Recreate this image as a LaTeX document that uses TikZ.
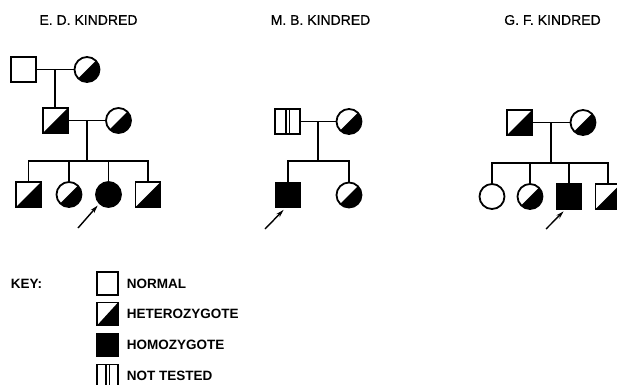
\documentclass[tikz,border=0pt]{standalone}
\usepackage{fontspec}
\setmainfont{Liberation Sans}
\newfontfamily\titlefont[FakeBold=0.6]{Liberation Sans}
\usetikzlibrary{arrows.meta,calc,positioning}

\begin{document}
\begin{tikzpicture}[x=1pt, y=-1pt, line width=1.8,
  male/.style={draw, rectangle, minimum size=25, inner sep=0},
  female/.style={draw, circle, minimum size=25, inner sep=0},
  het/.style={path picture={\fill (path picture bounding box.south west)
      -- (path picture bounding box.north east) |- cycle;}},
  homo/.style={fill=black},
  untested/.style={path picture={
      \draw[line width=1.2] ([xshift=-1.6]path picture bounding box.north)
        -- ([xshift=-1.6]path picture bounding box.south);
      \draw[line width=1.2] ([xshift=1.6]path picture bounding box.north)
        -- ([xshift=1.6]path picture bounding box.south);}},
  keybox/.style={draw, rectangle, minimum width=21, minimum height=23, inner sep=0},
  title/.style={font=\fontsize{14}{16}\selectfont\titlefont},
  keytext/.style={font=\fontsize{13.5}{16}\selectfont\bfseries, inner sep=0},
  pointer/.style={-{Stealth[length=8,width=4.5]}, line width=1.4, shorten >=2},
]
\clip (0,0) rectangle (617,384);

% E. D. kindred
\node[title] (edt) at (88.5,20) {E. D. KINDRED};
\node[male] (ei1) at (23.5,69.5) {};
\node[female,het] (ei2) at (87,69.5) {};
\coordinate (e1) at ($(ei1)!0.5!(ei2)$);
\node[male,het] (eii1) at (55.25,120.5) {};
\node[female,het] (eii2) at (118.5,120.5) {};
\coordinate (e2) at ($(eii1)!0.5!(eii2)$);
\coordinate (es) at ($(e2)+(0,40.5)$);
\node[male,het] (ec1) at (28.5,194.5) {};
\node[female,het] (ec2) at (69,194.5) {};
\node[female,homo] (ec3) at (108.5,194.5) {};
\node[male,het] (ec4) at (148,194.5) {};
\draw (ei1) -- (ei2);
\draw (e1) -- (eii1);
\draw (eii1) -- (eii2);
\draw (e2) -- (es);
\draw (ec1) |- (es) -| (ec4);
\draw (ec2) -- (ec2 |- es);
\draw (ec3) -- (ec3 |- es);
\coordinate (ea) at (78,228);
\draw[pointer] (ea) -- (ec3.225);

% M. B. kindred
\node[title] (mbt) at (320.5,20) {M. B. KINDRED};
\node[male,untested] (mi1) at (287.5,121.5) {};
\node[female,het] (mi2) at (349,121.5) {};
\coordinate (m1) at ($(mi1)!0.5!(mi2)$);
\coordinate (ms) at ($(m1)+(0,39.5)$);
\node[male,homo] (mc1) at (288,195) {};
\node[female,het] (mc2) at (349,195) {};
\draw (mi1) -- (mi2);
\draw (m1) -- (ms);
\draw (mc1) |- (ms) -| (mc2);
\coordinate (ma) at (265,229);
\draw[pointer] (ma) -- ([xshift=-3]mc1.south);

% G. F. kindred
\node[title] (gft) at (552.5,20) {G. F. KINDRED};
\node[male,het] (gi1) at (519.5,122.5) {};
\node[female,het] (gi2) at (583,122.5) {};
\coordinate (g1) at ($(gi1)!0.5!(gi2)$);
\coordinate (gs) at ($(g1)+(0,40.5)$);
\node[female] (gc1) at (492,196.5) {};
\node[female,het] (gc2) at (530,196.5) {};
\node[male,homo] (gc3) at (569,196.5) {};
\node[male,het] (gc4) at (608,196.5) {};
\draw (gi1) -- (gi2);
\draw (g1) -- (gs);
\draw (gc1) |- (gs) -| (gc4);
\draw (gc2) -- (gc2 |- gs);
\draw (gc3) -- (gc3 |- gs);
\coordinate (ga) at (546,229);
\draw[pointer] (ga) -- ([xshift=-4]gc3.south);

% key
\node[keytext, anchor=west] (key) at (10,284) {KEY:};
\node[keybox] (k1) at (107.5,283.5) {};
\node[keybox,het] (k2) at (107.5,314) {};
\node[keybox,homo] (k3) at (107.5,345) {};
\node[keybox,untested] (k4) at (107.5,376) {};
\node[keytext, right=7 of k1] (l1) {NORMAL};
\node[keytext, right=7 of k2] (l2) {HETEROZYGOTE};
\node[keytext, right=7 of k3] (l3) {HOMOZYGOTE};
\node[keytext, right=7 of k4] (l4) {NOT TESTED};
\end{tikzpicture}
\end{document}
